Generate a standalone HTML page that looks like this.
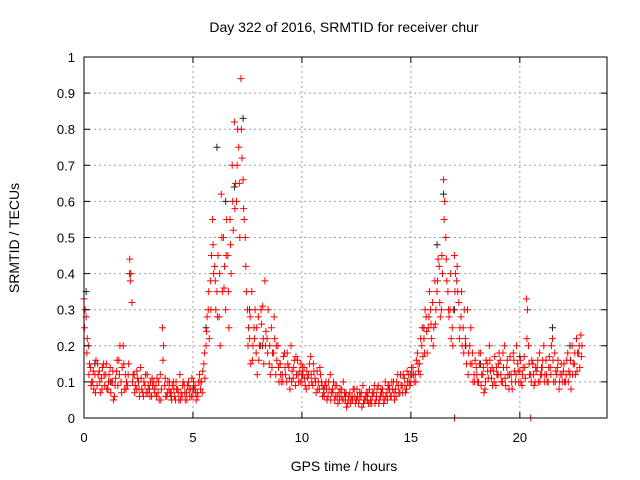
<!DOCTYPE html>
<html><head><meta charset="utf-8"><style>
body{margin:0;background:#fff;}
svg{display:block;font-family:"Liberation Sans",sans-serif;}
</style></head><body>
<svg id="chart" width="640" height="480" viewBox="0 0 640 480">
<rect width="640" height="480" fill="#fff"/>
<text x="344" y="32" font-size="14" text-anchor="middle">Day 322 of 2016, SRMTID for receiver chur</text>
<text x="344" y="471" font-size="14" text-anchor="middle">GPS time / hours</text>
<text transform="translate(19,238) rotate(-90)" font-size="14" text-anchor="middle">SRMTID / TECUs</text>
<g id="grid"></g>
<g id="marks"></g>
<rect x="84" y="57" width="523" height="361" fill="none" stroke="#000" stroke-width="1"/>
<g id="ticks"></g>
</svg>
<script>
const xTicks=[0,5,10,15,20];
const yTicks=[0,0.1,0.2,0.3,0.4,0.5,0.6,0.7,0.8,0.9,1];
const yTickLabels=["0","0.1","0.2","0.3","0.4","0.5","0.6","0.7","0.8","0.9","1"];
const redA=[0.33,0.28,0.2,0.14,0.1,0.12,0.09,0.13,0.11,0.15,
0.12,0.08,0.14,0.1,0.06,0.13,0.16,0.1,0.2,0.12,
0.09,0.44,0.32,0.12,0.08,0.1,0.14,0.07,0.09,0.12,
0.08,0.06,0.1,0.09,0.07,0.12,0.25,0.09,0.06,0.08,
0.07,0.1,0.05,0.08,0.12,0.06,0.09,0.07,0.1,0.08,
0.06,0.09,0.07,0.12,0.1,0.15,0.2,0.3,0.38,0.55,
0.42,0.35,0.28,0.62,0.5,0.3,0.45,0.55,0.7,0.82,
0.6,0.75,0.94,0.66,0.5,0.3,0.22,0.35,0.25,0.18,
0.28,0.2,0.31,0.38,0.22,0.15,0.25,0.18,0.12,0.2,
0.15,0.12,0.18,0.1,0.14,0.2,0.11,0.09,0.16,0.13,
0.1,0.14,0.08,0.12,0.17,0.09,0.11,0.13,0.08,0.1,
0.07,0.1,0.06,0.12,0.08,0.05,0.09,0.07,0.06,0.1,
0.05,0.04,0.07,0.06,0.08,0.05,0.04,0.06,0.09,0.05,
0.06,0.08,0.04,0.07,0.05,0.09,0.06,0.08,0.05,0.07,
0.09,0.06,0.1,0.08,0.12,0.07,0.09,0.11,0.08,0.12,
0.1,0.14,0.12,0.18,0.15,0.2,0.22,0.28,0.25,0.3,
0.32,0.38,0.35,0.42,0.3,0.66,0.5,0.35,0.3,0.25,
0.45,0.38,0.32,0.28,0.25,0.22,0.3,0.2,0.15,0.12,
0.14,0.1,0.18,0.12,0.08,0.15,0.2,0.11,0.13,0.09,
0.12,0.16,0.1,0.2,0.14,0.08,0.12,0.18,0.1,0.15,
0.13,0.09,0.17,0.33,0.2,0.12,0.15,0.1,0.14,0.18,
0.12,0.2,0.16,0.1,0.14,0.22,0.18,0.12,0.08,0.15,
0.13,0.1,0.18,0.12,0.2,0.15,0.22,0.18,0.23];
const redB=[0.3,0.22,0.15,0.1,0.08,0.16,0.12,0.07,0.14,0.09,
0.08,0.12,0.1,0.05,0.11,0.09,0.2,0.14,0.08,0.1,
0.15,0.4,0.12,0.09,0.11,0.06,0.08,0.1,0.07,0.09,
0.1,0.09,0.07,0.11,0.05,0.08,0.2,0.06,0.1,0.07,
0.09,0.06,0.08,0.05,0.07,0.1,0.05,0.09,0.06,0.11,
0.08,0.05,0.1,0.08,0.13,0.11,0.28,0.22,0.45,0.4,
0.3,0.45,0.2,0.35,0.42,0.55,0.25,0.4,0.52,0.65,
0.8,0.5,0.72,0.55,0.35,0.25,0.15,0.2,0.3,0.12,
0.2,0.26,0.15,0.24,0.3,0.12,0.18,0.22,0.16,0.1,
0.1,0.17,0.12,0.15,0.08,0.13,0.16,0.12,0.1,0.15,
0.12,0.09,0.11,0.15,0.1,0.13,0.07,0.1,0.12,0.06,
0.09,0.05,0.08,0.07,0.1,0.06,0.04,0.08,0.05,0.07,
0.03,0.06,0.05,0.08,0.04,0.06,0.07,0.03,0.05,0.07,
0.04,0.05,0.07,0.04,0.08,0.05,0.07,0.04,0.06,0.09,
0.06,0.08,0.05,0.1,0.07,0.09,0.12,0.07,0.1,0.09,
0.12,0.1,0.16,0.13,0.22,0.17,0.3,0.18,0.35,0.22,
0.25,0.3,0.44,0.28,0.4,0.6,0.38,0.28,0.22,0.3,
0.4,0.35,0.25,0.2,0.3,0.15,0.18,0.25,0.1,0.16,
0.1,0.15,0.12,0.07,0.16,0.11,0.13,0.09,0.17,0.12,
0.18,0.1,0.14,0.09,0.12,0.17,0.08,0.13,0.2,0.1,
0.1,0.14,0.11,0.3,0.12,0.16,0.09,0.13,0.1,0.12,
0.16,0.12,0.1,0.17,0.2,0.1,0.13,0.16,0.12,0.1,
0.1,0.16,0.13,0.08,0.15,0.12,0.18,0.14,0.2];
const redC=[0.25,0.18,0.12,0.09,0.13,0.07,0.15,0.1,0.08,0.12,
0.15,0.1,0.07,0.13,0.09,0.16,0.12,0.07,0.15,0.08,
0.12,0.38,0.1,0.07,0.13,0.08,0.11,0.06,0.12,0.07,
0.06,0.11,0.08,0.06,0.1,0.05,0.16,0.11,0.07,0.1,
0.05,0.08,0.1,0.07,0.05,0.09,0.07,0.05,0.08,0.06,
0.1,0.07,0.06,0.1,0.07,0.18,0.24,0.35,0.3,0.48,
0.38,0.28,0.4,0.5,0.36,0.45,0.35,0.48,0.6,0.58,
0.7,0.65,0.8,0.58,0.42,0.2,0.28,0.16,0.22,0.25,
0.16,0.3,0.22,0.2,0.18,0.2,0.14,0.28,0.2,0.14,
0.12,0.1,0.14,0.18,0.11,0.1,0.14,0.17,0.12,0.1,
0.14,0.11,0.13,0.09,0.12,0.15,0.1,0.08,0.14,0.09,
0.06,0.08,0.1,0.05,0.07,0.09,0.06,0.05,0.08,0.05,
0.07,0.05,0.04,0.05,0.06,0.08,0.05,0.07,0.04,0.06,
0.07,0.04,0.06,0.09,0.06,0.04,0.08,0.06,0.1,0.05,
0.08,0.1,0.07,0.06,0.09,0.12,0.07,0.09,0.13,0.1,
0.14,0.12,0.1,0.15,0.12,0.25,0.18,0.24,0.28,0.26,
0.2,0.26,0.38,0.32,0.45,0.55,0.44,0.3,0.4,0.2,
0.35,0.42,0.22,0.35,0.18,0.2,0.12,0.15,0.18,0.1,
0.12,0.18,0.09,0.14,0.1,0.13,0.16,0.14,0.1,0.14,
0.15,0.12,0.18,0.11,0.16,0.12,0.1,0.16,0.12,0.13,
0.16,0.12,0.14,0.22,0.15,0.1,0.12,0.14,0.16,0.1,
0.14,0.1,0.12,0.14,0.12,0.16,0.1,0.14,0.1,0.12,
0.15,0.12,0.1,0.16,0.12,0.18,0.13,0.2,0.17];
const blackT=[0.1,0.5,1.2,2.1,3.0,4.0,5.0,5.6,6.1,6.5,6.9,7.3,7.6,8.2,9.0,10,11,12,13,14,15,15.6,16.2,16.5,17,17.5,18.2,19,20,21,21.5,22.3];
const blackV=[0.35,0.15,0.1,0.4,0.08,0.06,0.08,0.25,0.75,0.6,0.64,0.83,0.3,0.2,0.15,0.12,0.08,0.06,0.05,0.08,0.12,0.25,0.48,0.62,0.3,0.2,0.15,0.12,0.17,0.14,0.25,0.2];
const zeroT=[17.0,20.5];
const zeroV=[0,0];

const X0=84,X1=607,Y0=418,Y1=57,XMAX=24;
const sx=t=>X0+t/XMAX*(X1-X0);
const sy=v=>Y0-v*(Y0-Y1);
const NS="http://www.w3.org/2000/svg";
const grid=document.getElementById('grid'),marks=document.getElementById('marks'),ticks=document.getElementById('ticks');
function mk(tag,attrs,parent){const e=document.createElementNS(NS,tag);for(const k in attrs)e.setAttribute(k,attrs[k]);parent.appendChild(e);return e;}
yTicks.forEach((v,i)=>{
  if(v>0&&v<1){const g=mk('line',{x1:X0,x2:X1,y1:sy(v),y2:sy(v),stroke:'#a0a0a0','stroke-dasharray':'2,3'},grid);
  
  }
  const t=mk('path',{d:`M${X0},${sy(v)}h6M${X1},${sy(v)}h-6`,stroke:'#000'},ticks);
  
  
  const l=mk('text',{x:X0-9,y:sy(v)+5,'font-size':13,'text-anchor':'end'},ticks);
  l.textContent=yTickLabels[i];
  
  
});
xTicks.forEach(v=>{
  if(v>0){const g=mk('line',{x1:sx(v),x2:sx(v),y1:Y0,y2:Y1,stroke:'#a0a0a0','stroke-dasharray':'2,3'},grid);
  
  }
  const t=mk('path',{d:`M${sx(v)},${Y0}v-6M${sx(v)},${Y1}v6`,stroke:'#000'},ticks);
  
  
  const l=mk('text',{x:sx(v),y:Y0+24,'font-size':13,'text-anchor':'middle'},ticks);
  l.textContent=String(v);
  
  
});
function plus(t,v,color,name){
  const x=sx(t),y=sy(v);
  const p=mk('path',{d:`M${x-3.5},${y}h7M${x},${y-3.5}v7`,stroke:color,'stroke-width':1,fill:'none'},marks);
  
  
}
blackT.forEach((t,i)=>plus(t,blackV[i],'#222','black-point'));
redA.forEach((v,i)=>plus(i*0.1,v,'#ff0000','red-point'));
redB.forEach((v,i)=>plus(i*0.1+0.05,v,'#ff0000','red-point'));
redC.forEach((v,i)=>plus(i*0.1+0.025,v,'#ff0000','red-point'));
zeroT.forEach((t,i)=>plus(t,zeroV[i],'#ff0000','red-point-zero'));
</script>
</body></html>
